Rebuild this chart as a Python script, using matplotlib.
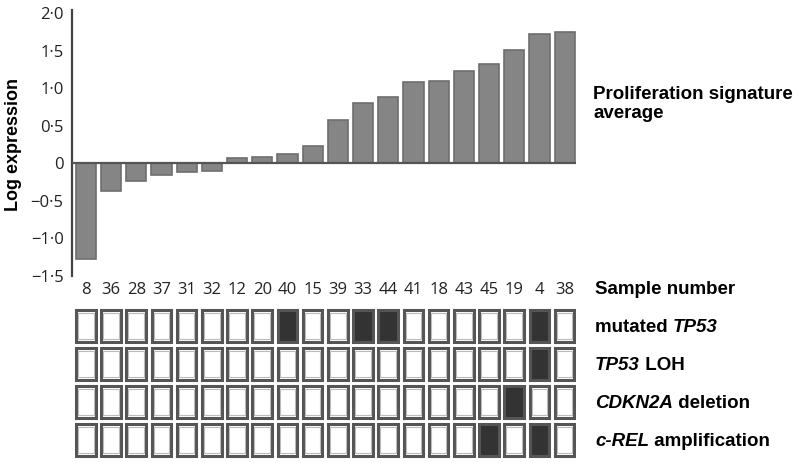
import matplotlib.pyplot as plt
from matplotlib.patches import Rectangle

samples = ['8', '36', '28', '37', '31', '32', '12', '20', '40', '15',
           '39', '33', '44', '41', '18', '43', '45', '19', '4', '38']
log_expr = [-1.27, -0.37, -0.24, -0.15, -0.12, -0.10, 0.07, 0.08, 0.12, 0.23,
            0.58, 0.80, 0.88, 1.08, 1.09, 1.23, 1.32, 1.51, 1.72, 1.75]

# each row label as (text, italic) pieces
row_labels = [[('mutated ', False), ('TP53', True)],
              [('TP53', True), (' LOH', False)],
              [('CDKN2A', True), (' deletion', False)],
              [('c-REL', True), (' amplification', False)]]
mut_tp53 = [0, 0, 0, 0, 0, 0, 0, 0, 1, 0, 0, 1, 1, 0, 0, 0, 0, 0, 1, 0]
tp53_loh = [0, 0, 0, 0, 0, 0, 0, 0, 0, 0, 0, 0, 0, 0, 0, 0, 0, 0, 1, 0]
cdkn2a_del = [0, 0, 0, 0, 0, 0, 0, 0, 0, 0, 0, 0, 0, 0, 0, 0, 0, 1, 0, 0]
crel_amp = [0, 0, 0, 0, 0, 0, 0, 0, 0, 0, 0, 0, 0, 0, 0, 0, 1, 0, 1, 0]
status = [mut_tp53, tp53_loh, cdkn2a_del, crel_amp]

W, H = 800, 463
fig = plt.figure(figsize=(W / 100, H / 100), dpi=100)
num_font = 'Open Sans'
lab_font = 'Liberation Sans'
lab_size = 13.5

# bar chart
ax = fig.add_axes([72 / W, (H - 276) / H, 504 / W, 263 / H])
x = list(range(len(samples)))
ax.bar(x, log_expr, width=0.8, color='#858585', edgecolor='#6e6e6e', linewidth=1.2, zorder=2)
ax.axhline(0, color='#555555', lw=1.6, zorder=3)
ax.set_xlim(-0.55, 19.45)
ax.set_ylim(-1.5, 2.0)
for s in ['top', 'right', 'bottom']:
    ax.spines[s].set_visible(False)
ax.spines['left'].set_color('#444444')
ax.spines['left'].set_linewidth(1.6)
ax.spines['left'].set_bounds(-1.5, 2.04)
ax.set_yticks([-1.5, -1.0, -0.5, 0, 0.5, 1.0, 1.5, 2.0])
ax.set_yticklabels(['\u22121\u00b75', '\u22121\u00b70', '\u22120\u00b75', '0',
                    '0\u00b75', '1\u00b70', '1\u00b75', '2\u00b70'],
                   family=num_font, fontsize=12, color='#222222')
ax.tick_params(axis='y', length=0, pad=6)
ax.set_xticks(x)
ax.set_xticklabels(samples, family=num_font, fontsize=12, color='#222222')
ax.tick_params(axis='x', length=0, pad=4)
ax.set_ylabel('Log expression', family=lab_font, fontweight='bold', fontsize=13, labelpad=6)

# mutation grid
gx = fig.add_axes([72 / W, 0, 504 / W, 163 / H])
gx.set_xlim(-0.55, 19.45)
gx.set_ylim(3.605, -0.684)
gx.axis('off')
for r, row in enumerate(status):
    for c, v in enumerate(row):
        face = '#333333' if v else 'white'
        gx.add_patch(Rectangle((c - 0.39, r - 0.42), 0.78, 0.84, facecolor=face,
                               edgecolor='#555555', lw=2.2))
        if not v:
            gx.add_patch(Rectangle((c - 0.31, r - 0.35), 0.62, 0.70, facecolor='none',
                                   edgecolor='#bbbbbb', lw=0.8))


def px(xp, yp):
    return xp / W, (H - yp) / H


fig.text(*px(593, 104), 'Proliferation signature\naverage', family=lab_font,
         fontweight='bold', fontsize=lab_size, va='center', ha='left', linespacing=1.2)
fig.text(*px(595, 290), 'Sample number', family=lab_font, fontweight='bold',
         fontsize=lab_size, va='center', ha='left')

# mixed italic / upright labels, placed piece by piece
renderer = fig.canvas.get_renderer()
for r, pieces in enumerate(row_labels):
    xp = 595
    for txt, ital in pieces:
        t = fig.text(*px(xp, 326 + 38 * r), txt, family=lab_font, fontweight='bold',
                     style='italic' if ital else 'normal', fontsize=lab_size,
                     va='center_baseline', ha='left')
        xp += t.get_window_extent(renderer).width

fig.savefig('out.png', dpi=100)
